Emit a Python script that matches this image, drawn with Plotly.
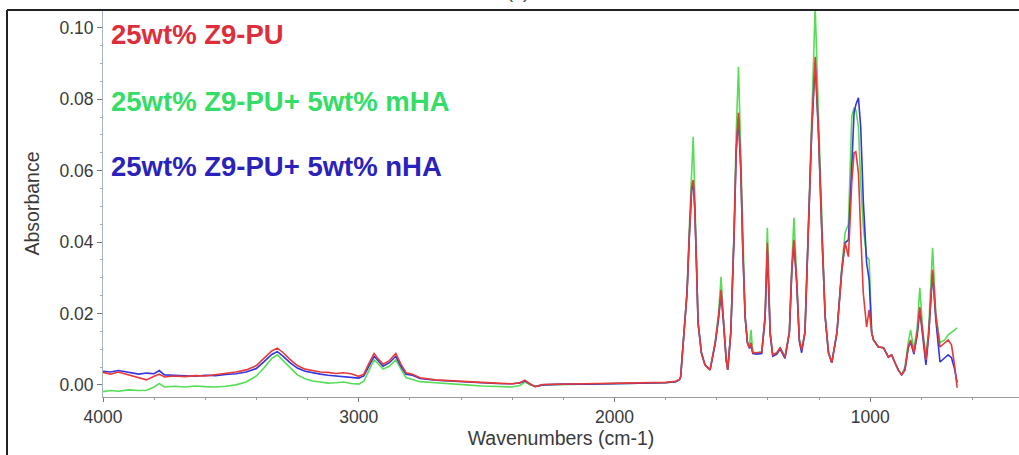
import plotly.graph_objects as go

# ---------------- data ----------------
series_names = ["25wt% Z9-PU", "25wt% Z9-PU+ 5wt% mHA", "25wt% Z9-PU+ 5wt% nHA"]

# wavenumbers, cm-1 (shared by the three spectra)
wavenumber = [
    4000, 3970, 3940, 3900, 3860, 3830, 3800, 3780, 3760, 3720, 3680, 3640, 3600, 3560, 3520, 3480, 3440,
    3400, 3370, 3340, 3318, 3295, 3270, 3240, 3210, 3180, 3150, 3120, 3090, 3060, 3030, 3000,
    2980, 2960, 2940, 2925, 2905, 2880, 2855, 2835, 2815, 2790, 2760,
    2700, 2640, 2580, 2520, 2460, 2400, 2370, 2350, 2330, 2310, 2280, 2200, 2100, 2000, 1900, 1800, 1760, 1745,
    1741, 1728, 1716, 1708, 1698, 1692, 1686, 1679, 1673, 1660, 1646, 1626,
    1606, 1593, 1583, 1574, 1563, 1557,
    1545, 1532, 1524, 1515, 1506, 1498, 1489, 1480, 1472, 1466, 1459, 1444, 1424,
    1411, 1402, 1391, 1381, 1365, 1352, 1333,
    1316, 1306, 1298, 1287, 1277, 1268,
    1255, 1242, 1229, 1215, 1202, 1189, 1176, 1163, 1150,
    1130, 1111, 1098, 1085, 1072, 1063, 1056, 1046, 1037, 1027, 1014, 1004,
    994, 987, 968, 948, 929, 916, 903, 890, 877,
    864, 851, 842, 829, 816, 806, 795, 782, 771, 756, 743,
    727, 708, 695, 682, 669, 660,
]

abs_pu = [
    .0035, .0030, .0036, .0028, .0020, .0014, .0024, .0030, .0022, .0025, .0023, .0026, .0025, .0029, .0031, .0036, .0042,
    .0054, .0075, .0095, .0103, .0090, .0072, .0054, .0044, .0040, .0036, .0035, .0032, .0034, .0031, .0024,
    .0030, .0060, .0088, .0074, .0058, .0068, .0088, .0058, .0034, .0030, .0020,
    .0014, .0011, .0009, .0007, .0005, .0003, .0006, .0013, .0003, -.0005, .0001, .0002, .0003, .0003, .0004, .0007, .0010, .0016,
    .0023, .0146, .0258, .0406, .0555, .0574, .0499, .0331, .0174, .0090, .0056, .0042,
    .0118, .0190, .0266, .0182, .0070, .0042,
    .0146, .0426, .0658, .0762, .0611, .0378, .0190, .0118, .0104, .0118, .0090, .0090, .0092,
    .0190, .0398, .0146, .0084, .0090, .0104, .0078,
    .0146, .0331, .0406, .0286, .0126, .0098,
    .0146, .0426, .0706, .0919, .0706, .0426, .0190, .0090, .0062,
    .0146, .0320, .0398, .0359, .0566, .0650, .0653, .0594, .0426, .0258, .0162, .0210,
    .0146, .0126, .0106, .0104, .0078, .0084, .0062, .0042, .0028,
    .0042, .0106, .0126, .0090, .0146, .0218, .0146, .0070, .0146, .0322, .0190,
    .0106, .0118, .0126, .0112, .0050, -.0008,
]

abs_mha = [
    -.0019, -.0016, -.0018, -.0014, -.0016, -.0015, -.0006, .0004, -.0006, -.0004, -.0006, -.0003, -.0005, -.0006, -.0004, .0000, .0008,
    .0025, .0048, .0074, .0084, .0068, .0048, .0028, .0017, .0011, .0008, .0005, .0006, .0008, .0004, .0002,
    .0010, .0042, .0070, .0060, .0044, .0052, .0070, .0044, .0020, .0015, .0009,
    .0006, .0004, .0000, -.0003, -.0005, -.0006, -.0002, .0008, .0000, -.0004, .0000, .0001, .0002, .0002, .0003, .0006, .0009, .0015,
    .0023, .0146, .0258, .0430, .0600, .0695, .0540, .0345, .0176, .0090, .0056, .0042,
    .0120, .0200, .0303, .0190, .0070, .0042,
    .0146, .0440, .0700, .0891, .0660, .0390, .0195, .0120, .0110, .0154, .0092, .0090, .0092,
    .0195, .0440, .0150, .0084, .0090, .0104, .0078,
    .0150, .0345, .0468, .0295, .0128, .0098,
    .0150, .0440, .0740, .1060, .0750, .0440, .0195, .0090, .0062,
    .0146, .0330, .0426, .0450, .0751, .0776, .0770, .0723, .0566, .0443, .0359, .0350,
    .0146, .0126, .0106, .0104, .0078, .0084, .0062, .0042, .0028,
    .0050, .0120, .0154, .0098, .0160, .0272, .0160, .0072, .0160, .0384, .0200,
    .0118, .0126, .0140, .0146, .0154, .0160,
]

abs_nha = [
    .0038, .0036, .0040, .0035, .0030, .0033, .0031, .0040, .0028, .0027, .0026, .0024, .0027, .0026, .0029, .0031, .0036,
    .0046, .0065, .0085, .0093, .0080, .0063, .0047, .0038, .0033, .0030, .0027, .0025, .0024, .0022, .0019,
    .0025, .0052, .0080, .0068, .0052, .0062, .0080, .0052, .0030, .0027, .0018,
    .0013, .0010, .0008, .0006, .0004, .0003, .0005, .0011, .0002, -.0005, .0000, .0002, .0002, .0003, .0004, .0006, .0009, .0015,
    .0023, .0146, .0262, .0400, .0545, .0565, .0495, .0331, .0174, .0090, .0056, .0042,
    .0115, .0185, .0255, .0178, .0070, .0042,
    .0146, .0420, .0650, .0748, .0600, .0375, .0190, .0118, .0102, .0110, .0088, .0086, .0088,
    .0185, .0375, .0140, .0080, .0086, .0100, .0074,
    .0146, .0325, .0395, .0280, .0122, .0090,
    .0146, .0426, .0700, .0902, .0700, .0426, .0190, .0090, .0062,
    .0146, .0320, .0398, .0406, .0611, .0762, .0785, .0804, .0723, .0518, .0342, .0294,
    .0146, .0126, .0106, .0104, .0078, .0084, .0062, .0042, .0028,
    .0042, .0104, .0120, .0086, .0140, .0210, .0140, .0056, .0140, .0314, .0180,
    .0064, .0076, .0084, .0076, .0042, .0006,
]

assert len(wavenumber) == len(abs_pu) == len(abs_mha) == len(abs_nha)

x_ticks = [4000, 3000, 2000, 1000]
y_ticks = [0.00, 0.02, 0.04, 0.06, 0.08, 0.10]

line_colors = {"pu": "#e63a3a", "mha": "#55dd55", "nha": "#3535dd"}
text_colors = {"pu": "#dd2e3c", "mha": "#33dd66", "nha": "#2a22bb"}

# ---------------- figure ----------------
fig = go.Figure()
fig.add_trace(go.Scatter(x=wavenumber, y=abs_mha, mode="lines", name=series_names[1],
                         line=dict(color=line_colors["mha"], width=1.6)))
fig.add_trace(go.Scatter(x=wavenumber, y=abs_nha, mode="lines", name=series_names[2],
                         line=dict(color=line_colors["nha"], width=1.6)))
fig.add_trace(go.Scatter(x=wavenumber, y=abs_pu, mode="lines", name=series_names[0],
                         line=dict(color=line_colors["pu"], width=1.6)))

W, H = 1019, 455
ml, mr, mt, mb = 103, 0, 10, 58
pw, ph = W - ml - mr, H - mt - mb

fig.update_layout(
    width=W, height=H,
    margin=dict(l=ml, r=mr, t=mt, b=mb),
    paper_bgcolor="white", plot_bgcolor="white",
    showlegend=False,
    font=dict(family="Liberation Sans, Arial, sans-serif", color="#333333"),
)

fig.update_xaxes(
    range=[4000, 418], tickvals=x_ticks, ticktext=[str(v) for v in x_ticks],
    showgrid=False, zeroline=False,
    showline=True, linecolor="#9a9a9a", linewidth=1,
    ticks="outside", ticklen=4, tickcolor="#777777",
    minor=dict(dtick=200, ticks="outside", ticklen=2, tickcolor="#999999"),
    tickfont=dict(size=17.5, color="#3a3a3a"),
    title=dict(text="Wavenumbers (cm-1)", font=dict(size=19.5, color="#3a3a3a"), standoff=4),
)
fig.update_yaxes(
    range=[-0.0034, 0.1050], tickvals=y_ticks, tickformat=".2f",
    showgrid=False, zeroline=False,
    showline=True, linecolor="#a8b4c0", linewidth=1,
    ticks="outside", ticklen=5, tickcolor="#777777",
    minor=dict(dtick=0.005, ticks="outside", ticklen=2, tickcolor="#aaaaaa"),
    tickfont=dict(size=17.5, color="#3a3a3a"),
    title=dict(text="Absorbance", font=dict(size=19.5, color="#3a3a3a"), standoff=14),
)

# series labels written inside the plot
label_rows = [(series_names[0], text_colors["pu"], 34),
              (series_names[1], text_colors["mha"], 101),
              (series_names[2], text_colors["nha"], 166)]
for txt, col, ypx in label_rows:
    fig.add_annotation(text="<b>%s</b>" % txt, xref="paper", yref="paper",
                       x=(109 - ml) / pw, y=(mt + ph - ypx) / ph,
                       xanchor="left", yanchor="middle", showarrow=False,
                       font=dict(size=27.5, color=col, family="Liberation Sans, Arial, sans-serif"))

# panel letter, cropped at the top of the picture
fig.add_annotation(text="(a)", xref="paper", yref="paper",
                   x=(518 - ml) / pw, y=(mt + ph - 4) / ph, xanchor="center", yanchor="bottom",
                   showarrow=False, font=dict(size=18, color="#444444"))

# black frame lines (top and left of the panel)
fx = (7 - ml) / pw
fig.add_shape(type="line", xref="paper", yref="paper", x0=fx, x1=1, y0=1, y1=1,
              line=dict(color="#222222", width=2))
fig.add_shape(type="line", xref="paper", yref="paper", x0=fx, x1=fx, y0=1, y1=(mt + ph - H) / ph,
              line=dict(color="#222222", width=2))

fig.write_html("out.html", config={"displayModeBar": False})

# remove the browser's default 8px page margin so the figure sits at the window's corner
with open("out.html", "r", encoding="utf-8") as fh:
    page = fh.read()
page = page.replace("<head>", "<head><style>html,body{margin:0;padding:0;overflow:hidden;}</style>", 1)
with open("out.html", "w", encoding="utf-8") as fh:
    fh.write(page)
